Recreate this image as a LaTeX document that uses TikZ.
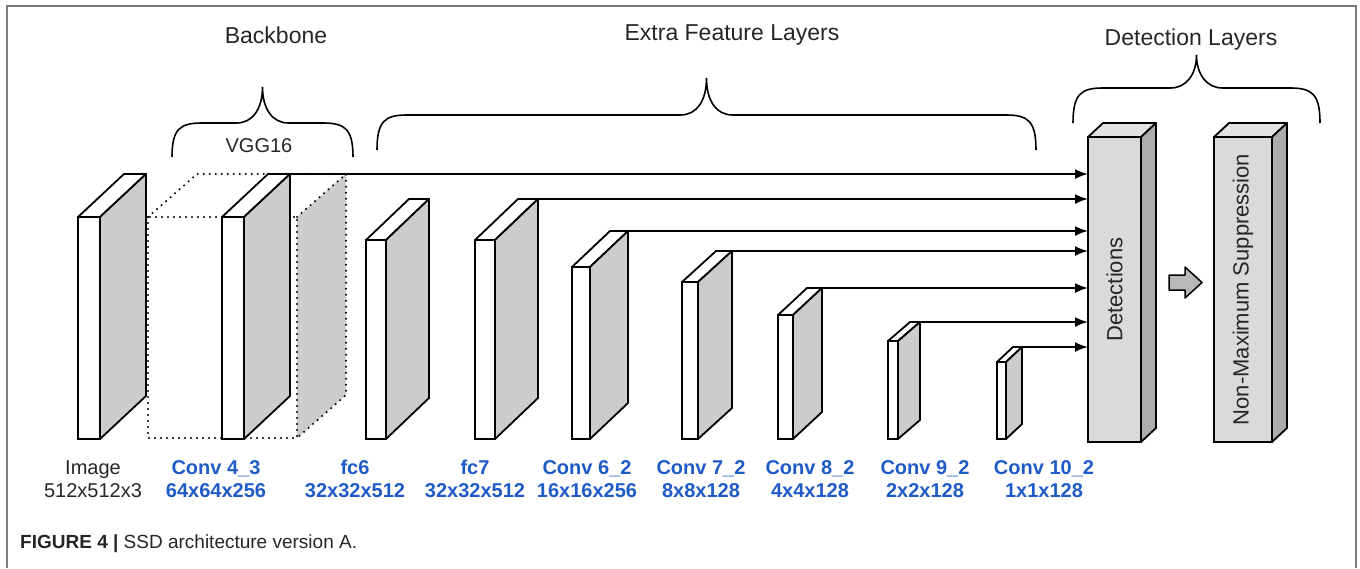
\documentclass[tikz,border=0pt]{standalone}
\usepackage{fontspec}
\setmainfont{Liberation Sans}
\usetikzlibrary{calc,arrows.meta}
\definecolor{labelblue}{HTML}{1F5BC6}
\definecolor{sidegray}{HTML}{CCCCCC}
\definecolor{boxgray}{HTML}{DADADA}
\definecolor{boxtop}{HTML}{E2E2E2}
\definecolor{boxside}{HTML}{ACACAC}
\definecolor{framegray}{HTML}{7A7A7A}

\begin{document}
\begin{tikzpicture}[x=1pt, y=-1pt, line width=1.8pt,
  front/.style={draw, fill=white, inner sep=0pt, outer sep=0pt, anchor=south west},
  topface/.style={draw, fill=white, line join=round},
  sideface/.style={draw, fill=sidegray, line join=round},
  dotbox/.style={line width=2.3pt, line cap=round, dash pattern=on 0pt off 6pt},
  dimlabel/.style={text=labelblue, font=\bfseries\fontsize{20}{23}\selectfont, align=center},
  head/.style={font=\fontsize{23}{27}\selectfont, text=black!85},
  feed/.style={-{Latex[length=13pt,width=10pt]}},
  bracestyle/.style={line width=1.6pt}]

\useasboundingbox (0,0) rectangle (1360,568);
% frame
\draw[framegray, line width=2pt] (7,568) -- (7,6) -- (1356,6) -- (1356,568);

% dotted VGG16 block
\fill[sidegray] (297,217) -- (346,174) -- (346,395) -- (297,438) -- cycle;
\draw[dotbox] (297,217) -- (346,174) -- (346,395) -- (297,438);
\draw[dotbox] (148,217) rectangle (297,438);
\draw[dotbox] (148,217) -- (197,174) -- (346,174);

% feature layers
\foreach \name/\x/\w/\top/\dx/\dy in {img/78/22/217/46/-43, conv43/222/22/217/46/-43,
    fc6/366/20/240/43/-41, fc7/475/20/240/43/-41, conv62/572/18/267/38/-36,
    conv72/682/16/282/34/-31, conv82/778/15/315/29/-27, conv92/888/10/341/22/-19,
    conv102/997/9/362/16/-15} {
  \node[front, minimum width=\w, minimum height={439-\top}] (\name) at (\x,439) {};
  \draw[topface] (\name.north west) -- ++(\dx,\dy) -- ++(\w,0) -- (\name.north east) -- cycle;
  \draw[sideface] (\name.north east) -- ++(\dx,\dy) coordinate (\name-b) -- ++(0,{439-\top}) -- (\name.south east) -- cycle;
}

% detection layers
\foreach \name/\x/\w in {det/1088/53, nms/1214/58} {
  \node[front, fill=boxgray, minimum width=\w, minimum height=305] (\name) at (\x,442) {};
  \draw[topface, fill=boxtop] (\name.north west) -- ++(15,-14) -- ++(\w,0) -- (\name.north east) -- cycle;
  \draw[sideface, fill=boxside] (\name.north east) -- ++(15,-14) -- ++(0,305) -- (\name.south east) -- cycle;
}
\node[rotate=90, font=\fontsize{22}{26}\selectfont, text=black!85] (dettext) at (det.center) {Detections};
\node[rotate=90, font=\fontsize{22}{26}\selectfont, text=black!85] (nmstext) at (nms.center) {Non-Maximum Suppression};

% arrows into detections
\foreach \name in {conv43,fc7,conv62,conv72,conv82,conv92,conv102}
  \draw[feed] (\name-b) -- (\name-b -| det.west);

% block arrow
\draw[fill=boxside!85, line width=1.5pt, line join=round] (1169,275) -- (1185,275) -- (1185,267)
  -- (1202,282.5) -- (1185,298) -- (1185,290) -- (1169,290) -- cycle;

% braces
\foreach \xl/\xr/\yb/\yh/\yt in {172/353/157/123/87, 377/1036/150/115/78, 1073/1320/123/88/55} {
  \pgfmathsetmacro{\xm}{(\xl+\xr)/2}
  \draw[bracestyle] (\xl,\yb) .. controls (\xl,{\yh+6}) and ({\xl+8},\yh) .. ({\xl+30},\yh)
    -- ({\xm-26},\yh) .. controls ({\xm-10},\yh) and (\xm,{\yh-14}) .. (\xm,\yt)
    .. controls (\xm,{\yh-14}) and ({\xm+10},\yh) .. ({\xm+26},\yh)
    -- ({\xr-30},\yh) .. controls ({\xr-8},\yh) and (\xr,{\yh+6}) .. (\xr,\yb);
}

% headings
\node[head] (backbone) at (276,35) {Backbone};
\node[head] (extra) at (732,35) {Extra Feature Layers};
\node[head] (detlayers) at (1191,40) {Detection Layers};
\node[head, font=\fontsize{20}{24}\selectfont] (vgg) at (259,146) {VGG16};

% layer labels
\node[dimlabel, text=black!85, font=\fontsize{20}{23}\selectfont] (img-lbl) at (93,479) {Image\\512x512x3};
\foreach \name/\cx/\lineA/\lineB in {conv43/216/Conv 4\_3/64x64x256, fc6/355/fc6/32x32x512,
    fc7/475/fc7/32x32x512, conv62/587/Conv 6\_2/16x16x256, conv72/701/Conv 7\_2/8x8x128,
    conv82/810/Conv 8\_2/4x4x128, conv92/925/Conv 9\_2/2x2x128, conv102/1044/Conv 10\_2/1x1x128}
  \node[dimlabel] (\name-lbl) at (\cx,479) {\lineA\\\lineB};

% caption
\node[anchor=west, font=\fontsize{19}{21}\selectfont, text=black!85] (caption) at (16,544)
  {\textbf{FIGURE 4 |} SSD architecture version A.};
\end{tikzpicture}
\end{document}
